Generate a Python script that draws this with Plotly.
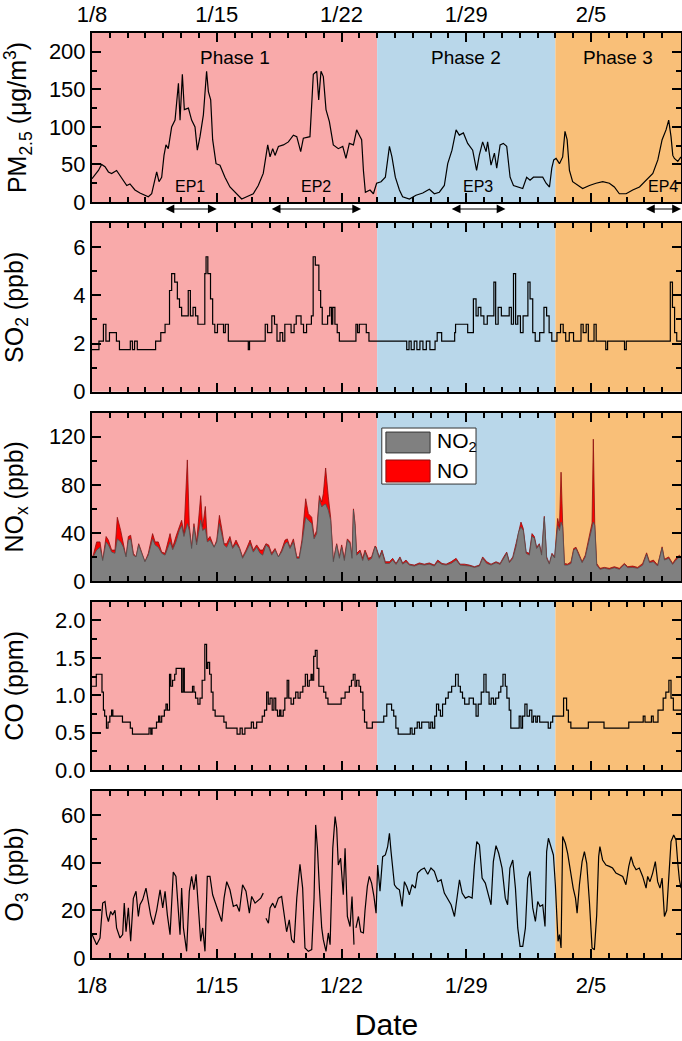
import pandas as pd
import plotly.graph_objects as go

START = pd.Timestamp("2020-01-08")
END_DAYS = 33.05

def dates(days):
    return [START + pd.Timedelta(days=float(d)) for d in days]

# ---------------- data (days since 1/8 00:00) ----------------
pm_days = [0.0, 0.36, 0.54, 0.73, 0.92, 1.10, 1.38, 1.66, 1.95, 2.13,
           2.41, 2.69, 2.97, 3.16, 3.35, 3.53, 3.63, 3.76, 3.91, 4.04,
           4.15, 4.28, 4.47, 4.66, 4.85, 4.94, 5.07, 5.18, 5.41, 5.59,
           5.78, 5.91, 6.06, 6.25, 6.43, 6.53, 6.66, 6.77, 6.96, 7.18,
           7.46, 7.74, 8.12, 8.40, 8.68, 9.05, 9.33, 9.61, 9.86, 9.99,
           10.14, 10.27, 10.46, 10.74, 11.02, 11.30, 11.49, 11.71, 11.86, 12.23,
           12.42, 12.61, 12.72, 12.85, 12.98, 13.13, 13.32, 13.54, 13.82, 14.07,
           14.25, 14.44, 14.67, 14.85, 15.00, 15.13, 15.23, 15.34, 15.60, 15.79,
           15.97, 16.22, 16.46, 16.69, 16.83, 17.02, 17.25, 17.43, 17.81, 18.18,
           18.56, 18.93, 19.21, 19.49, 19.77, 19.96, 20.20, 20.43, 20.61, 20.84,
           21.08, 21.36, 21.58, 21.73, 21.92, 22.11, 22.20, 22.39, 22.58, 22.71,
           22.90, 23.08, 23.27, 23.46, 23.65, 23.89, 24.17, 24.39, 24.58, 24.77,
           25.01, 25.29, 25.48, 25.67, 25.80, 25.91, 26.04, 26.23, 26.41, 26.54,
           26.66, 26.79, 26.97, 27.25, 27.53, 27.91, 28.28, 28.66, 29.03, 29.31,
           29.59, 29.97, 30.34, 30.72, 31.09, 31.47, 31.75, 31.99, 32.21, 32.36,
           32.49, 32.59, 32.68, 32.87, 33.05]
pm25 = [31, 42, 50, 47, 40, 38, 42, 33, 22, 24,
        16, 12, 9, 7, 11, 33, 40, 27, 33, 62,
        76, 71, 100, 109, 158, 109, 170, 123, 125, 109,
        100, 69, 87, 116, 174, 147, 136, 83, 51, 49,
        33, 20, 11, 4, 7, 11, 22, 38, 76, 60,
        71, 62, 74, 76, 80, 89, 87, 67, 85, 87,
        170, 174, 136, 174, 167, 123, 107, 76, 71, 74,
        58, 78, 76, 96, 89, 83, 42, 13, 16, 11,
        25, 27, 33, 74, 60, 33, 16, 7, 4, 9,
        12, 17, 11, 13, 22, 51, 69, 96, 89, 92,
        78, 69, 42, 62, 80, 67, 80, 49, 65, 45,
        76, 78, 74, 33, 22, 20, 18, 33, 29, 33,
        33, 33, 25, 20, 45, 56, 58, 51, 60, 94,
        83, 42, 27, 22, 18, 22, 25, 27, 25, 20,
        11, 11, 16, 20, 29, 38, 56, 83, 96, 109,
        87, 62, 58, 54, 60]

so2_days = [0.00, 0.39, 0.64, 0.78, 0.98, 1.29, 1.37, 1.54, 2.15, 2.27,
            2.39, 2.54, 3.57, 3.86, 4.10, 4.35, 4.47, 4.64, 4.79, 4.91,
            5.03, 5.28, 5.40, 5.52, 5.67, 5.81, 5.94, 6.21, 6.33, 6.40,
            6.50, 6.65, 6.77, 6.89, 7.04, 7.28, 7.38, 7.48, 7.57, 7.65,
            8.70, 8.77, 8.84, 9.65, 9.72, 9.85, 10.09, 10.24, 10.38, 10.55,
            10.70, 10.82, 11.07, 11.17, 11.34, 11.46, 11.63, 11.73, 11.87, 12.04,
            12.22, 12.31, 12.41, 12.53, 12.66, 12.73, 12.83, 12.92, 13.14, 13.22,
            13.34, 13.44, 13.51, 13.63, 13.76, 13.88, 14.73, 14.81, 14.90, 15.00,
            15.29, 15.39, 15.54, 17.54, 17.66, 17.79, 17.91, 18.08, 18.23, 18.40,
            18.57, 18.76, 18.96, 19.25, 19.37, 19.55, 19.62, 20.23, 20.35, 20.40,
            20.96, 21.08, 21.40, 21.55, 21.67, 21.82, 21.99, 22.18, 22.43, 22.55,
            22.65, 22.79, 22.97, 23.28, 23.41, 23.53, 23.65, 23.77, 23.89, 24.04,
            24.19, 24.38, 24.46, 24.58, 24.73, 24.87, 25.12, 25.36, 25.51, 25.65,
            25.80, 26.09, 26.29, 26.44, 26.58, 26.78, 27.02, 27.44, 27.56, 27.73,
            27.85, 28.17, 28.29, 28.73, 28.83, 28.93, 29.81, 29.88, 29.98, 32.32,
            32.45, 32.57, 32.69, 32.81, 33.06]
so2 = [1.75, 2.1, 2.8, 2.1, 2.45, 2.45, 2.1, 1.75, 2.1, 1.75,
       2.1, 1.75, 2.1, 2.45, 2.8, 4.2, 4.9, 4.55, 3.85, 3.5,
       3.15, 3.15, 4.2, 3.15, 3.5, 3.15, 2.8, 2.8, 4.9, 5.6,
       4.9, 3.85, 2.8, 2.45, 2.8, 2.8, 2.45, 2.8, 2.8, 2.1,
       2.1, 1.75, 2.1, 2.1, 2.8, 2.45, 3.15, 2.8, 2.1, 2.45,
       2.1, 2.8, 2.8, 2.45, 2.8, 3.15, 3.15, 2.8, 2.45, 2.8,
       2.8, 3.15, 5.6, 5.25, 5.25, 4.2, 3.5, 2.8, 2.8, 3.15,
       3.5, 2.8, 3.5, 2.8, 2.45, 2.1, 2.1, 2.8, 2.45, 2.8,
       2.8, 2.45, 2.1, 2.1, 1.75, 2.1, 1.75, 2.1, 1.75, 2.1,
       1.75, 2.1, 1.75, 2.1, 2.45, 2.45, 2.1, 2.1, 2.45, 2.8,
       2.8, 2.45, 3.85, 3.15, 3.5, 3.15, 2.8, 3.15, 3.15, 4.55,
       2.8, 3.5, 3.15, 3.15, 3.5, 2.8, 4.9, 2.8, 3.15, 2.45,
       3.15, 3.15, 4.55, 3.85, 2.45, 2.1, 2.45, 3.5, 3.15, 2.45,
       2.1, 2.45, 2.8, 2.45, 2.1, 2.45, 2.1, 2.8, 2.45, 2.8,
       2.1, 2.8, 2.1, 2.1, 1.75, 2.1, 2.1, 1.75, 2.1, 2.1,
       4.55, 3.5, 2.45, 2.1, 2.1]

nox_days = [0.00, 0.07, 0.26, 0.45, 0.60, 0.79, 0.92, 1.10, 1.29, 1.42,
            1.61, 1.76, 1.91, 2.04, 2.17, 2.32, 2.47, 2.62, 2.79, 2.97,
            3.16, 3.40, 3.54, 3.72, 3.91, 4.10, 4.38, 4.53, 4.71, 4.90,
            5.03, 5.16, 5.35, 5.46, 5.59, 5.72, 5.87, 6.10, 6.21, 6.36,
            6.47, 6.62, 6.85, 7.00, 7.15, 7.28, 7.41, 7.56, 7.74, 7.89,
            8.08, 8.27, 8.45, 8.64, 8.87, 9.05, 9.24, 9.43, 9.58, 9.76,
            9.91, 10.08, 10.27, 10.46, 10.64, 10.83, 10.96, 11.11, 11.30, 11.49,
            11.63, 11.78, 11.99, 12.14, 12.33, 12.46, 12.61, 12.76, 12.89, 12.98,
            13.11, 13.26, 13.39, 13.54, 13.73, 13.88, 14.01, 14.16, 14.33, 14.48,
            14.59, 14.67, 14.76, 14.85, 15.04, 15.19, 15.32, 15.51, 15.69, 15.88,
            15.94, 16.12, 16.27, 16.46, 16.69, 16.87, 17.06, 17.28, 17.43, 17.62,
            17.81, 18.09, 18.37, 18.65, 18.93, 19.21, 19.40, 19.64, 19.87, 20.15,
            20.43, 20.65, 20.90, 21.18, 21.46, 21.74, 21.92, 22.15, 22.39, 22.67,
            22.90, 23.10, 23.27, 23.42, 23.61, 23.79, 23.94, 24.07, 24.20, 24.36,
            24.54, 24.69, 24.82, 24.95, 25.10, 25.23, 25.38, 25.51, 25.66, 25.81,
            25.96, 26.13, 26.23, 26.32, 26.41, 26.51, 26.69, 26.88, 27.03, 27.16,
            27.31, 27.50, 27.68, 27.91, 28.06, 28.13, 28.21, 28.32, 28.50, 28.75,
            29.03, 29.31, 29.59, 29.87, 30.06, 30.34, 30.62, 30.90, 31.12, 31.28,
            31.50, 31.74, 31.99, 32.12, 32.36, 32.58, 32.77, 32.96, 33.05]
no2 = [19, 20, 25.7, 28, 17, 32.5, 30, 24, 23, 35,
       32.5, 28, 20, 34, 35, 21.5, 20, 30, 23, 16,
       21.5, 35, 30, 28, 23, 21.5, 32.5, 26, 32.5, 42,
       46, 37, 47.7, 42, 27, 45, 30, 50.5, 42, 43.6,
       32.5, 34, 28, 32.5, 47.7, 39.4, 30, 28, 34, 27,
       31, 27, 18.8, 24, 31, 24, 28, 23, 21.5, 30,
       28, 21.5, 25.7, 20, 24, 31, 32.5, 27, 32.5, 18.8,
       18.8, 31, 53, 50.5, 47.7, 35, 39.4, 67, 61.5, 63,
       64, 58.8, 50.5, 16, 30, 18.8, 28, 17, 34, 31,
       18.8, 58.8, 46, 21.5, 24, 17, 24, 17, 18.8, 28.4,
       27, 18.8, 24, 14.6, 14.6, 17.4, 13.8, 18.8, 14, 16,
       13.2, 12.4, 14, 13.2, 14, 12.4, 16, 13.8, 13.2, 14.6,
       17.4, 13.2, 12.9, 12.4, 11.3, 12.4, 18.8, 14.6, 13.2, 15.2,
       13.8, 18.8, 23, 15.2, 18.8, 28.4, 40.8, 45, 42, 23,
       21.5, 37.2, 35.6, 27, 30, 21.5, 52.7, 18.8, 14, 22.1,
       19.1, 46, 42, 49, 45, 13.2, 13.2, 14.6, 25.7, 27,
       22.1, 15.2, 20, 35.6, 46, 49, 46, 13.2, 9.7, 10.5,
       9.7, 11, 9.7, 13.8, 11, 11.3, 10.5, 13.2, 22.3, 15.2,
       16, 12.4, 27.6, 17.4, 18.8, 13.8, 17.4, 20, 19]
nox_total = [20, 21.5, 32.5, 32.5, 17, 37, 34, 25.7, 25.7, 53,
             42, 31, 20, 37, 38, 23, 20, 31, 24, 16,
             23, 39.4, 32.5, 32.5, 24, 23, 39.4, 28, 37, 45,
             50.5, 39.4, 100.7, 46, 28, 47.7, 32.5, 71, 45, 62,
             34, 37, 28, 34, 54.6, 43.6, 31, 31, 37, 28,
             34, 28, 20, 25.7, 34, 25.7, 30, 25.7, 25.7, 31,
             30, 23, 27, 20, 25.7, 34, 35, 28, 35, 20,
             20, 34, 68.4, 56, 53, 37, 42, 71, 65.7, 72.5,
             94, 70, 53, 17, 31, 20, 30, 18.8, 35, 32.5,
             20, 60, 47.7, 23, 25.7, 18.8, 25.7, 18.8, 20, 29,
             28.4, 20, 25.7, 16, 16, 18.8, 14.6, 20, 15, 17.4,
             14, 13.2, 15, 14, 15, 13.2, 17.4, 14.6, 14, 16,
             18.8, 14, 14, 13.2, 11.9, 13.2, 20, 16, 14, 16,
             14.6, 20, 24, 16, 20, 31, 42, 49, 43.6, 24,
             23, 39.4, 37, 28, 31, 23, 53.8, 20, 14.6, 23,
             20, 52, 45, 90.5, 47.7, 14.6, 14, 16, 27, 28,
             23, 16, 21.5, 37, 48.3, 118, 47.7, 14.6, 10.5, 11.3,
             10.5, 11.9, 10.5, 14.6, 11.9, 12.4, 11.3, 14.6, 23.4, 16,
             17.4, 13.2, 28.4, 18, 20, 14.6, 18.8, 21.5, 20]

co_days = [0.00, 0.24, 0.49, 0.56, 0.64, 0.71, 0.81, 0.90, 1.00, 1.10,
           1.17, 1.71, 2.15, 2.27, 3.20, 3.30, 3.37, 3.62, 3.74, 3.81,
           3.91, 4.06, 4.15, 4.23, 4.35, 4.42, 4.52, 4.64, 4.72, 4.96,
           5.03, 5.11, 5.18, 5.57, 5.64, 5.72, 5.81, 5.94, 6.06, 6.18,
           6.33, 6.43, 6.50, 6.60, 6.69, 6.79, 6.91, 7.40, 7.53, 8.14,
           8.31, 8.43, 8.58, 8.94, 9.06, 9.24, 9.55, 9.68, 9.80, 9.89,
           9.99, 10.11, 10.21, 10.31, 10.41, 10.53, 10.60, 10.73, 10.82, 10.95,
           11.04, 11.17, 11.31, 11.43, 11.56, 11.68, 11.83, 11.97, 12.09, 12.19,
           12.29, 12.36, 12.44, 12.53, 12.63, 12.73, 13.00, 13.12, 13.24, 13.88,
           13.98, 14.20, 14.44, 14.56, 14.66, 14.76, 14.85, 14.98, 15.07, 15.20,
           15.29, 15.42, 15.73, 16.37, 16.54, 16.81, 16.93, 17.05, 17.18, 17.86,
           17.96, 18.10, 18.25, 18.37, 18.50, 18.91, 19.01, 19.11, 19.23, 19.33,
           19.45, 19.55, 19.67, 19.84, 19.99, 20.18, 20.40, 20.55, 20.67, 20.79,
           20.91, 21.16, 21.40, 21.55, 21.67, 21.84, 21.99, 22.11, 22.28, 22.40,
           22.53, 22.65, 22.82, 22.94, 23.06, 23.19, 23.28, 23.41, 23.50, 23.97,
           24.07, 24.16, 24.29, 24.41, 24.55, 24.68, 24.77, 24.90, 24.99, 25.12,
           25.60, 25.73, 25.85, 26.46, 26.63, 26.73, 26.87, 27.85, 28.73, 30.12,
           30.93, 31.03, 31.39, 31.49, 31.76, 32.05, 32.20, 32.37, 32.49, 32.62,
           33.06]
co = [1.12, 1.28, 1.28, 1.04, 0.80, 0.72, 0.56, 0.64, 0.72, 0.80,
      0.72, 0.64, 0.56, 0.48, 0.56, 0.48, 0.56, 0.64, 0.72, 0.64,
      0.72, 0.80, 0.88, 0.80, 1.28, 1.12, 1.20, 1.28, 1.36, 1.36,
      1.04, 1.36, 1.04, 1.04, 1.12, 1.04, 0.96, 0.88, 0.96, 1.20,
      1.68, 1.36, 1.44, 1.28, 1.04, 0.80, 0.72, 0.64, 0.56, 0.48,
      0.56, 0.48, 0.56, 0.64, 0.56, 0.64, 0.72, 0.80, 1.04, 0.88,
      0.96, 0.80, 0.96, 0.80, 0.72, 0.80, 0.72, 0.80, 0.96, 1.20,
      0.96, 0.88, 0.96, 1.04, 0.96, 1.04, 1.12, 1.28, 1.12, 1.20,
      1.28, 1.20, 1.52, 1.60, 1.36, 1.12, 1.04, 0.96, 0.88, 0.88,
      0.96, 1.04, 1.12, 1.20, 1.28, 1.12, 1.20, 1.12, 1.04, 0.80,
      0.64, 0.56, 0.64, 0.72, 0.88, 0.80, 0.72, 0.56, 0.48, 0.56,
      0.48, 0.56, 0.64, 0.56, 0.64, 0.56, 0.64, 0.56, 0.72, 0.88,
      0.80, 0.72, 0.88, 0.96, 1.04, 1.12, 1.28, 1.12, 1.04, 0.96,
      0.88, 0.96, 0.88, 0.72, 0.88, 1.04, 1.28, 1.04, 0.88, 0.96,
      0.88, 0.96, 1.04, 1.12, 1.28, 1.12, 0.96, 0.80, 0.56, 0.72,
      0.56, 0.72, 0.88, 0.72, 0.80, 0.64, 0.72, 0.64, 0.72, 0.64,
      0.56, 0.64, 0.72, 0.96, 0.80, 0.64, 0.56, 0.64, 0.56, 0.64,
      0.72, 0.64, 0.72, 0.64, 0.80, 0.96, 1.04, 1.20, 0.96, 0.80,
      0.80]

o3_days = [0.00, 0.26, 0.45, 0.60, 0.73, 0.82, 0.92, 1.05, 1.16, 1.29,
           1.38, 1.57, 1.72, 1.81, 1.91, 2.04, 2.17, 2.32, 2.47, 2.60,
           2.69, 2.84, 3.03, 3.16, 3.29, 3.44, 3.63, 3.82, 3.97, 4.10,
           4.23, 4.38, 4.47, 4.56, 4.71, 4.84, 4.94, 5.03, 5.13, 5.31,
           5.46, 5.59, 5.72, 5.84, 5.97, 6.10, 6.21, 6.34, 6.47, 6.62,
           6.77, 6.90, 7.09, 7.28, 7.41, 7.56, 7.74, 7.93, 8.12, 8.27,
           8.45, 8.64, 8.83, 8.96, 9.15, 9.33, 9.47, 9.61, 9.68, 9.76,
           9.90, 9.99, 10.14, 10.27, 10.46, 10.64, 10.77, 10.92, 11.07, 11.20,
           11.34, 11.49, 11.67, 11.82, 11.95, 12.14, 12.33, 12.46, 12.55, 12.65,
           12.76, 12.89, 12.98, 13.13, 13.26, 13.36, 13.51, 13.64, 13.73, 13.82,
           13.95, 14.10, 14.20, 14.33, 14.48, 14.59, 14.70, 14.75, 14.81, 14.95,
           15.08, 15.23, 15.32, 15.45, 15.56, 15.69, 15.82, 15.94, 16.03, 16.16,
           16.31, 16.46, 16.59, 16.69, 16.78, 16.87, 16.97, 17.10, 17.25, 17.40,
           17.53, 17.66, 17.81, 17.96, 18.14, 18.27, 18.46, 18.65, 18.84, 19.02,
           19.21, 19.40, 19.59, 19.77, 19.96, 20.15, 20.34, 20.47, 20.62, 20.77,
           20.95, 21.14, 21.33, 21.46, 21.59, 21.74, 21.89, 22.07, 22.26, 22.39,
           22.52, 22.67, 22.82, 23.01, 23.19, 23.32, 23.45, 23.61, 23.76, 23.89,
           24.02, 24.17, 24.32, 24.45, 24.58, 24.73, 24.88, 25.01, 25.14, 25.29,
           25.42, 25.51, 25.61, 25.76, 25.89, 26.00, 26.08, 26.15, 26.23, 26.32,
           26.41, 26.56, 26.69, 26.88, 27.00, 27.13, 27.22, 27.35, 27.50, 27.63,
           27.76, 27.91, 28.06, 28.19, 28.32, 28.43, 28.50, 28.65, 28.84, 29.03,
           29.21, 29.40, 29.59, 29.78, 29.96, 30.12, 30.25, 30.38, 30.53, 30.71,
           30.90, 31.09, 31.18, 31.31, 31.46, 31.61, 31.74, 31.87, 31.99, 32.12,
           32.25, 32.40, 32.49, 32.64, 32.77, 32.87, 32.96, 33.05]
o3 = [10, 5.6, 8.4, 23, 23.7, 18, 15.3, 19.5, 18, 20,
      12.6, 8.4, 9.8, 23, 11, 21, 7, 25, 28, 17.4,
      22.3, 24.4, 29.3, 23, 18, 14, 20, 28.6, 21, 28,
      18, 9.8, 22.3, 36, 34.2, 21, 9.8, 29.3, 12.6, 2.8,
      28, 34.2, 28.6, 35.1, 22.3, 7, 12.6, 2.8, 34.2, 34.2,
      26.5, 23.7, 18.8, 15.3, 25.1, 32, 28.6, 21.6, 22.3, 19.5,
      30.7, 28, 18.8, 25.8, 23, 24.4, 25.1, 27.2, None, 16.7,
      14.6, 21, 23, 21, 25.1, 25.8, 18, 11, 16, 7.7,
      6.3, 25.1, 39.3, 29.3, 4.2, 2.8, 3.5, 25.1, 55.8, 46,
      29.3, 12.6, 7.7, 2.8, 10.5, 5.6, 46, 59.3, 54.4, 39,
      41.8, 26.5, 46, 17.4, 13.2, 25.8, 5.6, None, 12.6, 17.4,
      11, 10.5, 20, 30, 34.2, 31.4, 25.8, 18.8, 39, 28,
      42.5, 43.2, 46.7, 52.3, 44.6, 37, 30.7, 29.3, 28.6, 21.6,
      32, 30, 26.5, 30.7, 29.3, 35.6, 37, 37.7, 35.1, 37.7,
      36.3, 32, 32.8, 27.2, 24.4, 22.3, 17.4, 25.1, 32.8, 27.2,
      25.1, 25.8, 25.1, 39, 48.8, 47.4, 33.5, 31.4, 26.5, 22.3,
      40.4, 47.1, 43.9, 37.7, 25.1, 22.3, 37.7, 41.1, 29.3, 12.6,
      4.9, 4.9, 12.6, 33.5, 36.3, 21, 15.3, 23.7, 21.6, 22.3,
      13.2, 44.6, 50.2, 46, 43.2, 30.7, 15.3, 7, 9.8, 4.2,
      50.9, 48.1, 43.9, 34.9, 29.3, 25.1, 18.8, 30.7, 40.4, 44.6,
      39.7, 23.7, 4.2, 3.5, 18, 42.5, 46.7, 41.1, 39, 38.4,
      37.7, 35.6, 34.9, 34.2, 30.7, 38.4, 42.5, 39, 37, 37.7,
      34.2, 29.3, 34.2, 32, 35.6, 40.4, 32, 29.3, 33.5, 17.4,
      20, 38.4, 48.8, 51.6, 49.5, 39.7, 32.8, 29.3]

phase_names = ["Phase 1", "Phase 2", "Phase 3"]
phase_start = [0.0, 16.0, 26.0]
phase_end = [16.0, 26.0, END_DAYS]
phase_colors = ["#F9AAAA", "#B9D7EA", "#F9BF78"]

ep_names = ["EP1", "EP2", "EP3", "EP4"]
ep_start = [4.04, 10.0, 20.1, 31.0]
ep_end = [7.0, 15.1, 23.2, 33.05]

tick_days = [0, 7, 14, 21, 28]
tick_text = ["1/8", "1/15", "1/22", "1/29", "2/5"]

# ---------------- figure ----------------
FONT = "Liberation Sans, Arial, sans-serif"
fig = go.Figure()

LINE = dict(color="black", width=1.2)
fig.add_trace(go.Scatter(x=dates(pm_days), y=pm25, mode="lines", line=LINE,
                         name="PM2.5", xaxis="x", yaxis="y"))
fig.add_trace(go.Scatter(x=dates(so2_days), y=so2, mode="lines", line=dict(LINE, shape="hv"),
                         name="SO2", xaxis="x2", yaxis="y2"))
fig.add_trace(go.Scatter(x=dates(nox_days), y=nox_total, mode="lines", fill="tozeroy",
                         fillcolor="#FF0000", line=dict(color="#8B1010", width=0.8),
                         name="NO", xaxis="x3", yaxis="y3"))
fig.add_trace(go.Scatter(x=dates(nox_days), y=no2, mode="lines", fill="tozeroy",
                         fillcolor="#808080", line=dict(color="#505050", width=0.8),
                         name="NO2", xaxis="x3", yaxis="y3"))
fig.add_trace(go.Scatter(x=dates(co_days), y=co, mode="lines", line=dict(LINE, shape="hv"),
                         name="CO", xaxis="x4", yaxis="y4"))
fig.add_trace(go.Scatter(x=dates(o3_days), y=o3, mode="lines", line=LINE, connectgaps=False,
                         name="O3", xaxis="x5", yaxis="y5"))

domains = [(0.8173, 1.0), (0.6122, 0.7946), (0.4076, 0.5895), (0.2032, 0.3852), (0.0, 0.1805)]
ydefs = [
    dict(rng=[0, 225], dt=50, mdt=25, title="PM<sub>2.5</sub> (μg/m<sup>3</sup>)", so=25),
    dict(rng=[0, 7], dt=2, mdt=1, title="SO<sub>2</sub> (ppb)", so=49),
    dict(rng=[0, 140], dt=40, mdt=20, title="NO<sub>x</sub> (ppb)", so=25),
    dict(rng=[0, 2.25], dt=0.5, mdt=0.25, title="CO (ppm)", so=31, fmt=".1f"),
    dict(rng=[0, 70], dt=20, mdt=10, title="O<sub>3</sub> (ppb)", so=37),
]

xr = [START, START + pd.Timedelta(days=END_DAYS)]
for i in range(5):
    n = "" if i == 0 else str(i + 1)
    xa = dict(
        type="date", range=xr, anchor="y" + n, domain=[0, 1],
        tickmode="array", tickvals=dates(tick_days), ticktext=tick_text,
        ticks="inside", ticklen=9, tickwidth=2, tickcolor="black",
        minor=dict(ticks="inside", dtick=86400000, tick0=START, ticklen=5,
                   tickwidth=1.5, tickcolor="black"),
        showline=True, linewidth=2, linecolor="black", mirror="ticks",
        showgrid=False, zeroline=False,
        showticklabels=(i in (0, 4)), tickfont=dict(size=22),
    )
    if i == 0:
        xa["side"] = "top"
    else:
        xa["matches"] = "x"
    if i == 4:
        xa["ticklabelstandoff"] = 7
        xa["title"] = dict(text="Date", font=dict(size=30), standoff=22)
    yd = ydefs[i]
    ya = dict(
        range=yd["rng"], domain=list(domains[i]), anchor="x" + n,
        tickmode="linear", tick0=0, dtick=yd["dt"],
        ticks="inside", ticklen=9, tickwidth=2, tickcolor="black",
        minor=dict(ticks="inside", dtick=yd["mdt"], tick0=0, ticklen=5,
                   tickwidth=1.5, tickcolor="black"),
        showline=True, linewidth=2, linecolor="black", mirror="ticks",
        showgrid=False, zeroline=False, tickfont=dict(size=22),
        title=dict(text=yd["title"], font=dict(size=25), standoff=yd["so"]),
    )
    if "fmt" in yd:
        ya["tickformat"] = yd["fmt"]
    fig.update_layout(**{"xaxis" + n: xa, "yaxis" + n: ya})

shapes = []
annotations = []
for i in range(5):
    n = "" if i == 0 else str(i + 1)
    for p in range(3):
        shapes.append(dict(type="rect", xref="x" + n, yref="y" + n + " domain",
                           x0=dates([phase_start[p]])[0], x1=dates([phase_end[p]])[0],
                           y0=0, y1=1, fillcolor=phase_colors[p], line=dict(width=0),
                           layer="below"))

for p in range(3):
    mid = (phase_start[p] + phase_end[p]) / 2
    annotations.append(dict(text=phase_names[p], x=dates([mid])[0], y=192, xref="x", yref="y",
                            showarrow=False, font=dict(size=19)))

ARROW_Y = -0.041  # fraction of the PM2.5 panel height, just below it
for e in range(4):
    mid = (ep_start[e] + ep_end[e]) / 2
    annotations.append(dict(text=ep_names[e], x=dates([mid])[0], y=20, xref="x", yref="y",
                            showarrow=False, font=dict(size=16)))
    annotations.append(dict(text="", x=dates([ep_end[e]])[0], y=ARROW_Y, xref="x", yref="y domain",
                            ax=dates([ep_start[e]])[0], ay=ARROW_Y, axref="x", ayref="y domain",
                            showarrow=True, arrowside="end+start", arrowhead=2,
                            arrowsize=1.6, arrowwidth=1.1, arrowcolor="black"))

# manual legend for NOx panel
shapes.append(dict(type="rect", xref="x3 domain", yref="y3 domain", x0=0.492, x1=0.652,
                   y0=0.576, y1=0.909, fillcolor="white", line=dict(color="#333333", width=1)))
shapes.append(dict(type="rect", xref="x3 domain", yref="y3 domain", x0=0.499, x1=0.574,
                   y0=0.761, y1=0.885, fillcolor="#808080", line=dict(color="#333333", width=1)))
shapes.append(dict(type="rect", xref="x3 domain", yref="y3 domain", x0=0.499, x1=0.574,
                   y0=0.588, y1=0.719, fillcolor="#FF0000", line=dict(color="#8B1010", width=1)))
annotations.append(dict(text="NO<sub>2</sub>", xref="x3 domain", yref="y3 domain", x=0.582, y=0.823,
                        xanchor="left", yanchor="middle", showarrow=False, font=dict(size=21)))
annotations.append(dict(text="NO", xref="x3 domain", yref="y3 domain", x=0.582, y=0.654,
                        xanchor="left", yanchor="middle", showarrow=False, font=dict(size=21)))

fig.update_layout(
    width=682, height=1041,
    margin=dict(l=92, r=1, t=33, b=83, autoexpand=False),
    paper_bgcolor="white", plot_bgcolor="white",
    showlegend=False,
    font=dict(family=FONT, size=20, color="black"),
    shapes=shapes, annotations=annotations,
)

# remove the browser's default 8 px body margin so the figure fills the window exactly
fig.write_html("out.html", config={"displayModeBar": False},
               post_script="document.body.style.margin='0px';")
